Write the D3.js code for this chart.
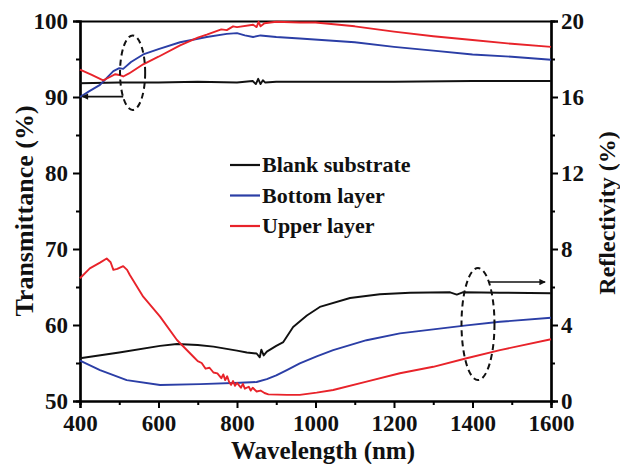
<!DOCTYPE html>
<html>
<head>
    <meta charset="UTF-8">
</head>
<body style="margin:0">
<svg id="chart" width="620" height="464" font-family="Liberation Serif" font-weight="bold"></svg>
<script src="https://d3js.org/d3.v7.min.js"></script>
<script>
    // wavelength ticks
    let xTicks = [400, 600, 800, 1000, 1200, 1400, 1600];
    let leftTicks = [50, 60, 70, 80, 90, 100];
    let rightTicks = [0, 4, 8, 12, 16, 20];

    // transmittance (%), left axis : [wavelength nm, value]
    let transBlank = [[400, 91.8], [500, 91.9], [600, 91.9], [700, 92.0], [800, 91.9], [840, 92.1], [848, 91.7],
        [854, 92.4], [860, 91.7], [866, 92.2], [872, 91.9], [900, 92.0], [1000, 92.0], [1200, 92.0], [1400, 92.1], [1600, 92.1]];
    let transBottom = [[400, 90.0], [425, 90.8], [451, 91.6], [485, 93.4], [500, 93.8], [510, 93.7], [530, 94.6],
        [561, 95.6], [600, 96.3], [655, 97.2], [723, 97.9], [774, 98.3], [800, 98.4], [820, 98.1], [841, 97.9],
        [860, 98.1], [900, 97.9], [960, 97.7], [1100, 97.2], [1200, 96.6], [1300, 96.1], [1400, 95.6], [1500, 95.3], [1600, 94.9]];
    let transUpper = [[400, 93.6], [430, 92.9], [459, 92.2], [475, 92.6], [490, 93.0], [500, 92.9], [510, 92.7],
        [525, 93.1], [561, 94.3], [600, 95.3], [655, 96.8], [700, 97.8], [723, 98.2], [760, 98.9], [774, 98.8],
        [790, 99.3], [800, 99.2], [841, 99.5], [850, 99.2], [855, 99.9], [860, 99.3], [870, 99.7], [900, 99.9],
        [960, 99.8], [1000, 99.8], [1100, 99.3], [1200, 98.6], [1300, 98.0], [1400, 97.5], [1500, 97.0], [1600, 96.6]];

    // reflectivity (%), right axis
    let reflBlank = [[400, 2.25], [500, 2.55], [604, 2.9], [647, 3.0], [700, 2.95], [740, 2.86], [800, 2.65],
        [825, 2.55], [850, 2.5], [858, 2.3], [862, 2.7], [868, 2.4], [876, 2.6], [900, 2.9], [918, 3.1], [943, 3.9],
        [978, 4.5], [1011, 4.95], [1088, 5.42], [1164, 5.62], [1241, 5.7], [1343, 5.72], [1360, 5.6], [1375, 5.72],
        [1470, 5.7], [1600, 5.67]];
    let reflBottom = [[400, 2.12], [451, 1.63], [519, 1.1], [604, 0.84], [706, 0.89], [808, 0.96], [850, 1.0],
        [876, 1.15], [900, 1.35], [927, 1.63], [960, 1.98], [1003, 2.35], [1045, 2.68], [1130, 3.2], [1215, 3.56],
        [1300, 3.77], [1385, 3.98], [1470, 4.17], [1600, 4.38]];
    let reflUpper = [[400, 6.46], [425, 6.98], [451, 7.28], [468, 7.5], [478, 7.3], [485, 6.9], [495, 6.95],
        [510, 7.1], [520, 6.9], [527, 6.63], [561, 5.49], [604, 4.44], [647, 3.21], [689, 2.33], [700, 2.1],
        [710, 2.0], [720, 1.7], [730, 1.75], [740, 1.5], [750, 1.45], [760, 1.2], [765, 1.4], [770, 1.1],
        [775, 1.3], [780, 1.0], [785, 0.85], [790, 1.05], [795, 0.8], [800, 0.95], [810, 0.7], [815, 0.9],
        [820, 0.65], [830, 0.75], [835, 0.55], [840, 0.7], [850, 0.5], [860, 0.55], [870, 0.42], [880, 0.35],
        [927, 0.32], [960, 0.32], [1003, 0.44], [1045, 0.58], [1130, 1.02], [1215, 1.46], [1300, 1.8],
        [1385, 2.25], [1470, 2.68], [1600, 3.25]];

    let seriesNames = ["Blank substrate", "Bottom layer", "Upper layer"];
    let seriesColors = ["#111111", "#2b3ea6", "#e8232a"];

    let fontName = "'Liberation Serif'";
    let svg = d3.select("#chart");
    let x = d3.scaleLinear().domain([400, 1600]).range([80, 551]);
    let yL = d3.scaleLinear().domain([50, 100]).range([401, 21]);
    let yR = d3.scaleLinear().domain([0, 20]).range([401, 21]);

    function styleAxis(g) {
        g.attr("font-family", fontName).attr("font-size", 23);
        g.selectAll(".domain").attr("stroke-width", 2.2);
        g.selectAll(".tick line").attr("stroke-width", 2);
        g.selectAll("text").style("font-family", fontName).style("font-weight", "bold")
            .style("font-size", "23px").attr("fill", "#111");
    }

    // minor ticks first
    svg.append("g").attr("transform", "translate(0,401)")
        .call(d3.axisBottom(x).tickValues(d3.range(500, 1600, 200)).tickSize(4).tickFormat(""))
        .call(styleAxis);
    svg.append("g").attr("transform", "translate(80,0)")
        .call(d3.axisLeft(yL).tickValues(d3.range(55, 100, 10)).tickSize(4).tickFormat(""))
        .call(styleAxis);
    svg.append("g").attr("transform", "translate(551,0)")
        .call(d3.axisRight(yR).tickValues(d3.range(2, 20, 4)).tickSize(4).tickFormat(""))
        .call(styleAxis);

    svg.append("g").attr("transform", "translate(0,401)")
        .call(d3.axisBottom(x).tickValues(xTicks).tickSize(7).tickPadding(7).tickFormat(d3.format("d")))
        .call(styleAxis);
    svg.append("g").attr("transform", "translate(80,0)")
        .call(d3.axisLeft(yL).tickValues(leftTicks).tickSize(7).tickPadding(5).tickFormat(d3.format("d")))
        .call(styleAxis);
    svg.append("g").attr("transform", "translate(551,0)")
        .call(d3.axisRight(yR).tickValues(rightTicks).tickSize(7).tickPadding(3).tickFormat(d3.format("d")))
        .call(styleAxis);
    // top frame
    svg.append("g").attr("transform", "translate(0,21)")
        .call(d3.axisTop(x).tickValues([]).tickSizeOuter(0))
        .call(styleAxis);

    let lineL = d3.line().x(function (d) { return x(d[0]); }).y(function (d) { return yL(d[1]); });
    let lineR = d3.line().x(function (d) { return x(d[0]); }).y(function (d) { return yR(d[1]); });

    let curves = [
        {data: transBlank, gen: lineL, c: 0}, {data: transBottom, gen: lineL, c: 1}, {data: transUpper, gen: lineL, c: 2},
        {data: reflBlank, gen: lineR, c: 0}, {data: reflBottom, gen: lineR, c: 1}, {data: reflUpper, gen: lineR, c: 2}
    ];
    curves.forEach(function (s) {
        svg.append("path")
            .attr("d", s.gen(s.data))
            .attr("fill", "none")
            .attr("stroke", seriesColors[s.c])
            .attr("stroke-width", 1.9)
            .attr("stroke-linejoin", "round");
    });

    // dashed ellipses and arrows
    svg.append("defs").append("marker")
        .attr("id", "head").attr("viewBox", "0 0 10 10")
        .attr("refX", 9).attr("refY", 5)
        .attr("markerWidth", 5).attr("markerHeight", 4).attr("orient", "auto")
        .append("path").attr("d", "M0,0 L10,5 L0,10 z").attr("fill", "#111");

    let ellipses = [
        {cx: 534, cy: yL(93.2), rx: x(534 + 32) - x(534), ry: yL(93.2 - 4.9) - yL(93.2)},
        {cx: 1414, cy: yR(4.05), rx: x(1414 + 42) - x(1414), ry: yR(4.05 - 2.95) - yR(4.05)}
    ];
    ellipses.forEach(function (e) {
        svg.append("ellipse")
            .attr("cx", x(e.cx)).attr("cy", e.cy).attr("rx", e.rx).attr("ry", e.ry)
            .attr("fill", "none").attr("stroke", "#111").attr("stroke-width", 2)
            .attr("stroke-dasharray", "6,4");
    });

    svg.append("line")
        .attr("x1", x(510)).attr("x2", x(406)).attr("y1", yL(90.05)).attr("y2", yL(90.05))
        .attr("stroke", "#111").attr("stroke-width", 1.6).attr("marker-end", "url(#head)");
    svg.append("line")
        .attr("x1", x(1440)).attr("x2", x(1585)).attr("y1", yR(6.26)).attr("y2", yR(6.26))
        .attr("stroke", "#111").attr("stroke-width", 1.6).attr("marker-end", "url(#head)");

    // legend
    let legend = svg.append("g").attr("transform", "translate(230,165)");
    seriesNames.forEach(function (name, i) {
        let row = legend.append("g").attr("transform", "translate(0," + (i * 30.5) + ")");
        row.append("line").attr("x1", 0).attr("x2", 30).attr("y1", 0).attr("y2", 0)
            .attr("stroke", seriesColors[i]).attr("stroke-width", 2.2);
        row.append("text").attr("x", 32).attr("y", 7)
            .style("font-family", fontName).style("font-weight", "bold")
            .style("font-size", "22px").attr("fill", "#111").text(name);
    });

    // axis titles
    function title(sel, size) {
        sel.attr("text-anchor", "middle").attr("fill", "#111")
            .style("font-family", fontName).style("font-weight", "bold").style("font-size", size + "px");
    }
    svg.append("text")
        .attr("transform", "translate(33,211) rotate(-90)")
        .call(title, 26).text("Transmittance (%)");
    svg.append("text")
        .attr("transform", "translate(615,213) rotate(-90)")
        .call(title, 24).text("Reflectivity (%)");
    svg.append("text")
        .attr("x", 323).attr("y", 459)
        .call(title, 25).text("Wavelength (nm)");
</script>
</body>
</html>
